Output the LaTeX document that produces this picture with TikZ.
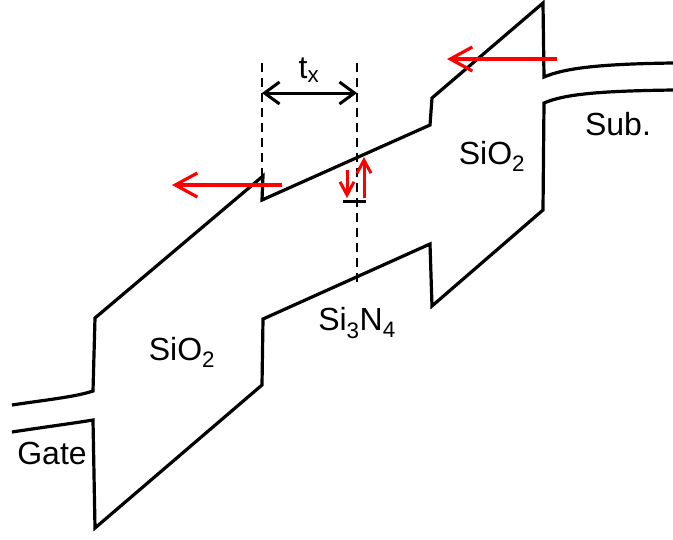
\documentclass[tikz,border=0pt]{standalone}
\usepackage{fontspec}
\setmainfont{Liberation Sans}
\usetikzlibrary{positioning,arrows.meta}
\definecolor{BandRed}{HTML}{FF0000}

\begin{document}
\begin{tikzpicture}[x=1pt, y=-1pt, line width=3pt, line join=miter,
  band/.style={draw=black, line width=3.2pt},
  redarrow/.style={draw=BandRed, line width=3.2pt, -{Straight Barb[length=22pt, width=24pt, line width=3.2pt]}},
  smallarrow/.style={draw=BandRed, line width=3pt, -{Straight Barb[length=13pt, width=14pt, line width=3pt]}},
  lbl/.style={font=\fontsize{32}{38}\selectfont, inner sep=0pt}]
  \useasboundingbox (0,0) rectangle (673,539);

  % conduction band edge
  \draw[band] (12,405) .. controls (45,400) and (75,397) .. (93,391) -- (95,318)
    -- (263,176) -- (262,200) -- (430,125) -- (432,98) -- (543,3) -- (544,77)
    .. controls (565,68) and (600,64) .. (673,63);
  % valence band edge
  \draw[band] (12,432) .. controls (45,427) and (75,423) .. (93,420) -- (95,528)
    -- (262,385) -- (263,319) -- (430,244) -- (432,306) -- (543,210) -- (544,103)
    .. controls (565,94) and (600,91) .. (673,90);

  % thickness markers
  \coordinate (tl) at (262,63);
  \coordinate (tr) at (357,63);
  \coordinate (tlb) at (262,200);
  \coordinate (trb) at (357,285);
  \draw[line width=2pt, dashed, dash pattern=on 9pt off 6pt] (tl) -- (tlb);
  \draw[line width=2pt, dashed, dash pattern=on 9pt off 6pt] (tr) -- (trb);
  \coordinate (al) at (262,93);
  \coordinate (ar) at (357,93);
  \draw[line width=3pt, {Straight Barb[length=15pt, width=22pt, line width=3pt]}-{Straight Barb[length=15pt, width=22pt, line width=3pt]}] (al) -- (ar);
  \node[lbl] (tx) at (309,70) {t\textsubscript{x}};

  % trap level and exchange
  \coordinate (trapl) at (343,201);
  \coordinate (trapr) at (366,201);
  \draw[line width=3pt] (trapl) -- (trapr);
  \coordinate (dns) at (347,170);
  \coordinate (dne) at (347,198);
  \coordinate (ups) at (364,198);
  \coordinate (upe) at (364,157);
  \draw[smallarrow] (dns) -- (dne);
  \draw[smallarrow] (ups) -- (upe);

  % tunnelling arrows
  \coordinate (ls) at (282,185);
  \coordinate (le) at (172,185);
  \coordinate (rs) at (557,59);
  \coordinate (re) at (447,59);
  \draw[redarrow] (ls) -- (le);
  \draw[redarrow] (rs) -- (re);

  % labels
  \node[lbl] (sio2l) at (182,352) {SiO\textsubscript{2}};
  \node[lbl] (sio2r) at (492,156) {SiO\textsubscript{2}};
  \node[lbl] (sin) at (357,323) {Si\textsubscript{3}N\textsubscript{4}};
  \node[lbl] (sub) at (618,124) {Sub.};
  \node[lbl] (gate) at (52,453) {Gate};
\end{tikzpicture}
\end{document}
